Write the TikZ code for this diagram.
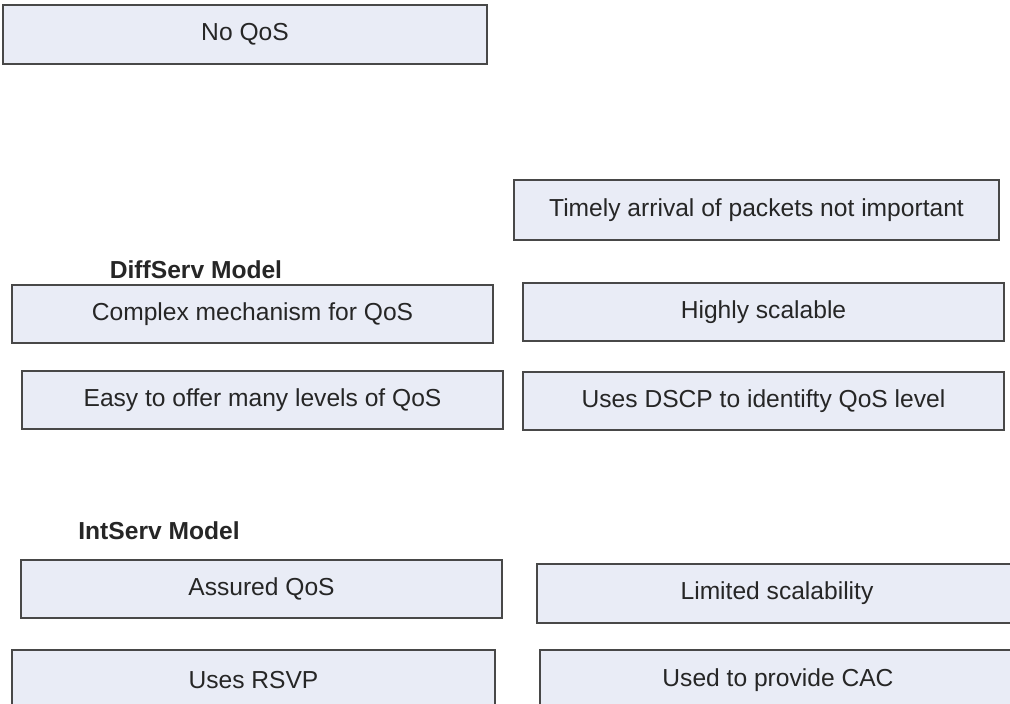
\documentclass[tikz,border=0pt]{standalone}
\usepackage{fontspec}
\setmainfont{Liberation Sans}
\definecolor{boxfill}{HTML}{E9ECF6}
\definecolor{boxline}{HTML}{484848}
\definecolor{txt}{HTML}{262626}
\begin{document}
\begin{tikzpicture}[x=1pt,y=-1pt,
  qbox/.style={draw=boxline, fill=boxfill, line width=2pt, rectangle, inner sep=0pt,
    text=txt, font=\fontsize{24.6}{29}\selectfont},
  heading/.style={inner sep=0pt, text=txt, font=\fontsize{24.6}{29}\selectfont\bfseries}]
\useasboundingbox (0,0) rectangle (1010,704);
\clip (0,0) rectangle (1010,704);
\fill[white] (0,0) rectangle (1010,704);
\node[qbox, minimum width=484pt, minimum height=59pt] (noqos) at (245,34.5) {No QoS};
\node[qbox, minimum width=485pt, minimum height=60pt] (timely) at (756.5,210) {Timely arrival of packets not important};
\node[heading] (diffserv) at (196,270) {DiffServ Model};
\node[qbox, minimum width=481pt, minimum height=58pt] (complex) at (252.5,314) {Complex mechanism for QoS};
\node[qbox, minimum width=481pt, minimum height=58pt] (highly) at (763.5,312) {Highly scalable};
\node[qbox, minimum width=481pt, minimum height=58pt] (easy) at (262.5,400) {Easy to offer many levels of QoS};
\node[qbox, minimum width=481pt, minimum height=58pt] (dscp) at (763.5,401) {Uses DSCP to identifty QoS level};
\node[heading] (intserv) at (159,531) {IntServ Model};
\node[qbox, minimum width=481pt, minimum height=58pt] (assured) at (261.5,589) {Assured QoS};
\node[qbox, minimum width=480pt, minimum height=59pt] (limited) at (777,593.5) {Limited scalability};
\node[qbox, minimum width=483pt, minimum height=60pt] (rsvp) at (253.5,680) {Uses RSVP};
\node[qbox, minimum width=476pt, minimum height=60pt] (cac) at (778,680) {Used to provide CAC};
\end{tikzpicture}
\end{document}
